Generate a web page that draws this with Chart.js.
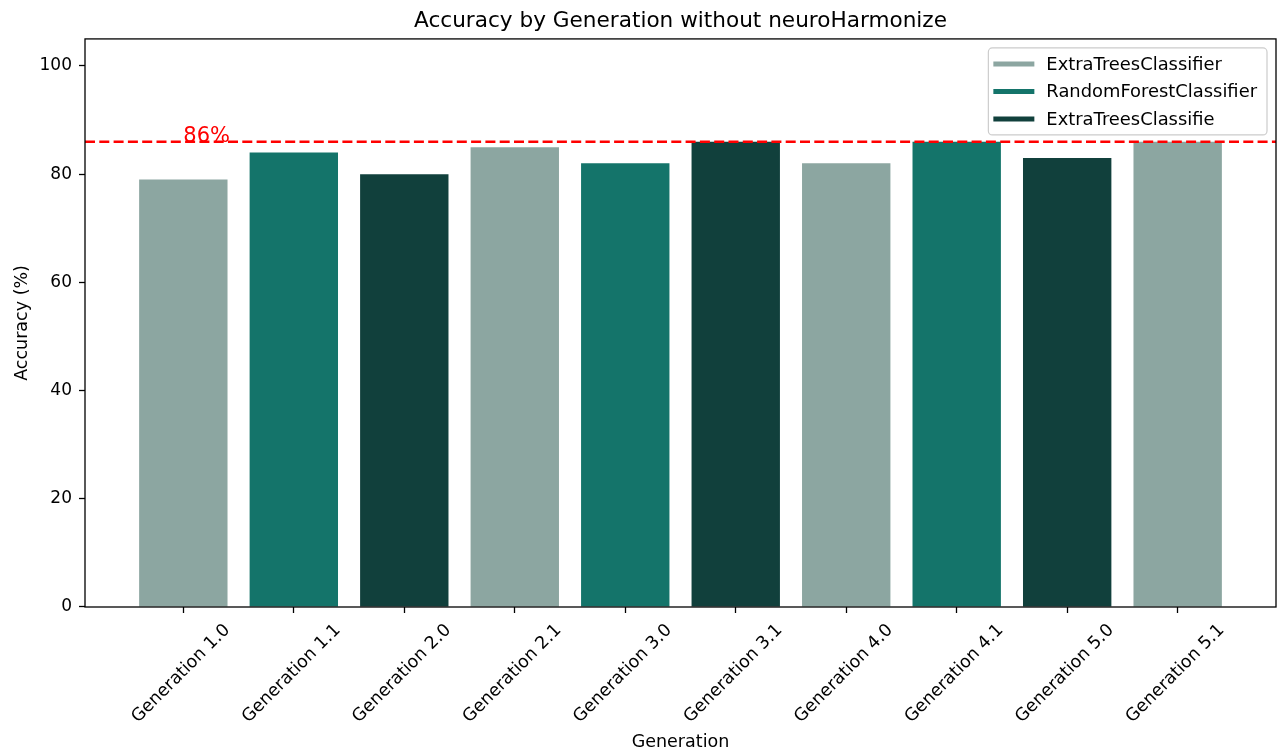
<!DOCTYPE html>
<html>
<head>
<meta charset="utf-8">
<title>Accuracy by Generation without neuroHarmonize</title>
<script src="https://cdn.jsdelivr.net/npm/chart.js@4.4.1/dist/chart.umd.min.js"></script>
<style>
  html, body { margin: 0; padding: 0; background: #ffffff; }
  #wrap { width: 1277px; height: 753px; position: relative; }
</style>
</head>
<body>
<div id="wrap"><canvas id="chart" width="1277" height="753"></canvas></div>
<script>
// Categories along the x axis
const generations = [
  'Generation 1.0', 'Generation 1.1', 'Generation 2.0', 'Generation 2.1', 'Generation 3.0',
  'Generation 3.1', 'Generation 4.0', 'Generation 4.1', 'Generation 5.0', 'Generation 5.1'
];
// Accuracy (%) of each generation
const accuracy = [79, 84, 80, 85, 82, 86, 82, 86, 83, 86];
// Which model each bar belongs to (index into modelNames)
const barModel = [0, 1, 2, 0, 1, 2, 0, 1, 2, 0];
const modelNames = ['ExtraTreesClassifier', 'RandomForestClassifier', 'ExtraTreesClassifie'];
const modelColors = ['#8ca6a1', '#14746a', '#11403c'];
// Best accuracy reference line
const bestAccuracy = 86;
const yTicks = [0, 20, 40, 60, 80, 100];

const FONT = "'DejaVu Sans', 'Liberation Sans', sans-serif";
const X_MIN = -0.89, X_MAX = 9.89;

const barDatasets = modelNames.map((name, m) => ({
  type: 'bar',
  label: name,
  data: generations.map((g, i) => ({ x: i, y: accuracy[i] })).filter((p, i) => barModel[i] === m),
  backgroundColor: modelColors[m],
  borderWidth: 0,
  grouped: false,
  categoryPercentage: 1.0,
  barPercentage: 0.8,
  order: 1
}));

const bestLine = {
  type: 'line',
  label: 'best',
  data: [{ x: X_MIN, y: bestAccuracy }, { x: X_MAX, y: bestAccuracy }],
  borderColor: '#ff0000',
  borderWidth: 2.6,
  borderDash: [10, 4.3],
  pointRadius: 0,
  fill: false,
  order: 0
};

// Frame, threshold label and legend drawn on top of the plot
const decorations = {
  id: 'decorations',
  afterDatasetsDraw(chart) {
    const { ctx, scales } = chart;
    ctx.save();
    // threshold label, left-aligned at the first bar, sitting on the line
    ctx.fillStyle = '#ff0000';
    ctx.font = '21px ' + FONT;
    ctx.textAlign = 'left';
    ctx.textBaseline = 'alphabetic';
    ctx.fillText(bestAccuracy + '%', scales.x.getPixelForValue(0), scales.y.getPixelForValue(bestAccuracy));
    ctx.restore();
  },
  afterDraw(chart) {
    const { ctx, chartArea: a } = chart;
    ctx.save();
    // axes frame
    ctx.strokeStyle = '#000';
    ctx.lineWidth = 1.3;
    ctx.strokeRect(a.left, a.top, a.right - a.left, a.bottom - a.top);

    // legend
    ctx.font = '17.9px ' + FONT;
    const items = chart.data.datasets.filter(d => d.type === 'bar');
    const textW = Math.max(...items.map(d => ctx.measureText(d.label).width));
    const padL = 5, handleW = 41, gap = 12, padR = 10, rowH = 27.5, padT = 15;
    const w = padL + handleW + gap + textW + padR;
    const h = padT * 2 + rowH * (items.length - 1) + 2;
    const x0 = a.right - 9 - w, y0 = a.top + 9;
    ctx.beginPath();
    ctx.roundRect(x0, y0, w, h, 4);
    ctx.fillStyle = 'rgba(255,255,255,0.8)';
    ctx.fill();
    ctx.strokeStyle = '#cccccc';
    ctx.lineWidth = 1.2;
    ctx.stroke();
    items.forEach((d, k) => {
      const yy = y0 + padT + 1 + k * rowH;
      ctx.strokeStyle = d.backgroundColor;
      ctx.lineWidth = 5;
      ctx.beginPath();
      ctx.moveTo(x0 + padL, yy);
      ctx.lineTo(x0 + padL + handleW, yy);
      ctx.stroke();
      ctx.fillStyle = '#000';
      ctx.textAlign = 'left';
      ctx.textBaseline = 'middle';
      ctx.fillText(d.label, x0 + padL + handleW + gap, yy + 1);
    });
    ctx.restore();
  }
};

new Chart(document.getElementById('chart'), {
  data: { datasets: [bestLine, ...barDatasets] },
  options: {
    responsive: false,
    animation: false,
    devicePixelRatio: 1,
    layout: { padding: { left: 0, right: 1, top: 0, bottom: 0 } },
    plugins: {
      legend: { display: false },
      tooltip: { enabled: false },
      title: {
        display: true,
        text: 'Accuracy by Generation without neuroHarmonize',
        fullSize: false,
        color: '#000',
        font: { family: FONT, size: 21.6, weight: 'normal', lineHeight: 1.2 },
        padding: { top: 8, bottom: 5 }
      }
    },
    scales: {
      x: {
        type: 'linear',
        min: X_MIN,
        max: X_MAX,
        offset: false,
        border: { display: false },
        grid: { display: true, offset: false, drawOnChartArea: false, drawTicks: true, tickLength: 6, tickColor: '#000', tickWidth: 1.3 },
        afterBuildTicks: s => { s.ticks = generations.map((g, i) => ({ value: i })); },
        afterFit: s => { s.height = 146; },
        ticks: {
          autoSkip: false,
          minRotation: 45,
          maxRotation: 45,
          labelOffset: 44,
          padding: 7,
          color: '#000',
          font: { family: FONT, size: 17.5 },
          callback: v => generations[v] ?? ''
        },
        title: {
          display: true,
          text: 'Generation',
          color: '#000',
          font: { family: FONT, size: 17.5, lineHeight: 1.2 },
          padding: { top: 0, bottom: 0 }
        }
      },
      y: {
        type: 'linear',
        min: 0,
        max: 105,
        border: { display: false },
        grid: { display: true, drawOnChartArea: false, drawTicks: true, tickLength: 6, tickColor: '#000', tickWidth: 1.3 },
        afterBuildTicks: s => { s.ticks = yTicks.map(v => ({ value: v })); },
        afterFit: s => { s.width = 85; },
        ticks: {
          padding: 7,
          color: '#000',
          font: { family: FONT, size: 17 }
        },
        title: {
          display: true,
          text: 'Accuracy (%)',
          color: '#000',
          font: { family: FONT, size: 17.5, lineHeight: 1.2 },
          padding: { top: 12, bottom: 0 }
        }
      }
    }
  },
  plugins: [decorations]
});
</script>
</body>
</html>
